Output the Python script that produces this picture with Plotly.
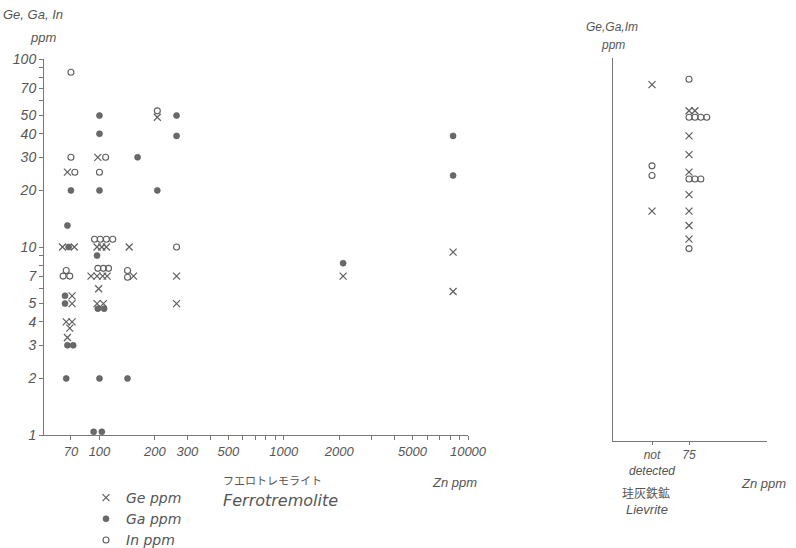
import math
import plotly.graph_objects as go

# ---------------- data ----------------
# Ferrotremolite panel: Zn ppm vs element ppm
ge_zn = [67, 63, 73, 71, 71, 66, 71, 69, 67,
         98, 97, 103, 109, 90, 97, 104, 110, 99, 97, 105,
         145, 153, 206, 262, 262, 2100, 8300, 8300]
ge_ppm = [25, 10, 10, 5.5, 5, 4, 4, 3.7, 3.3,
          30, 10, 10, 10, 7, 7, 7, 7, 6, 5, 5,
          10, 7, 49, 7, 5, 7, 9.4, 5.8]

ga_zn = [70, 67, 68, 65, 65, 67, 72, 66,
         100, 100, 100, 97, 98, 106, 100, 93, 103,
         142, 161, 206, 262, 262, 2100, 8300, 8300]
ga_ppm = [20, 13, 10, 5.5, 5, 3, 3, 2,
          50, 40, 20, 9, 4.7, 4.7, 2, 1.04, 1.04,
          2, 30, 20, 50, 39, 8.2, 39, 24]

in_zn = [70, 70, 73.5, 66, 63.5, 69,
         108, 100, 94, 101, 109, 118, 98, 105, 112,
         142, 142, 206, 262]
in_ppm = [85, 30, 25, 7.5, 7, 7,
          30, 25, 11, 11, 11, 11, 7.7, 7.7, 7.7,
          7.5, 6.9, 53, 10]

# Lievrite panel: Zn category vs element ppm
lv_categories = ["not detected", "75"]
lv_ge_cat = ["not detected", "not detected", "75", "75", "75", "75", "75", "75", "75", "75", "75"]
lv_ge_ppm = [73, 15.5, 53, 53, 39, 31, 25, 19, 15.5, 13, 11]
lv_in_cat = ["not detected", "not detected", "75", "75", "75", "75", "75", "75", "75", "75", "75"]
lv_in_ppm = [27, 24, 78, 49, 49, 49, 49, 23, 23, 23, 9.8]

x_tick_vals = [70, 100, 200, 300, 400, 500, 600, 700, 800, 900, 1000,
               2000, 3000, 4000, 5000, 6000, 7000, 8000, 9000, 10000]
x_tick_text = ["70", "100", "200", "300", "", "500", "", "", "", "", "1000",
               "2000", "", "", "5000", "", "", "", "", "10000"]
y_tick_vals = [1, 2, 3, 4, 5, 6, 7, 8, 9, 10, 20, 30, 40, 50, 60, 70, 80, 90, 100]
y_tick_text = ["1", "2", "3", "4", "5", "", "7", "", "", "10", "20", "30", "40", "50", "", "70", "", "", "100"]

# ---------------- styling / layout ----------------
W, H = 796, 548
INK = "#5e5e5e"
TXT = "#555555"
FONT = "Liberation Sans"
WIDE = "DejaVu Sans"


def fx(px):
    return px / W


def fy(py):
    return 1 - py / H


def jitter(cats, vals, step=0.16):
    """Place repeated (category, value) pairs side by side."""
    seen = {}
    out = []
    for c, v in zip(cats, vals):
        k = (c, v)
        n = seen.get(k, 0)
        seen[k] = n + 1
        out.append(lv_categories.index(c) + n * step)
    return out


ge_marker = dict(symbol="x-thin", size=7, color=INK, line=dict(width=1.2, color=INK))
ga_marker = dict(symbol="circle", size=6, color="#6a6a6a", line=dict(width=0.6, color="#555555"))
in_marker = dict(symbol="circle-open", size=6, color=INK, line=dict(width=1.1, color=INK))

fig = go.Figure()
fig.add_trace(go.Scatter(x=ge_zn, y=ge_ppm, mode="markers", name="Ge ppm", legendgroup="ge",
                         marker=ge_marker, cliponaxis=False, xaxis="x", yaxis="y"))
fig.add_trace(go.Scatter(x=ga_zn, y=ga_ppm, mode="markers", name="Ga ppm", legendgroup="ga",
                         marker=ga_marker, cliponaxis=False, xaxis="x", yaxis="y"))
fig.add_trace(go.Scatter(x=in_zn, y=in_ppm, mode="markers", name="In ppm", legendgroup="in",
                         marker=in_marker, cliponaxis=False, xaxis="x", yaxis="y"))
fig.add_trace(go.Scatter(x=jitter(lv_ge_cat, lv_ge_ppm), y=lv_ge_ppm, mode="markers", name="Ge ppm",
                         legendgroup="ge", showlegend=False, marker=ge_marker, cliponaxis=False,
                         xaxis="x2", yaxis="y2"))
fig.add_trace(go.Scatter(x=jitter(lv_in_cat, lv_in_ppm), y=lv_in_ppm, mode="markers", name="In ppm",
                         legendgroup="in", showlegend=False, marker=in_marker, cliponaxis=False,
                         xaxis="x2", yaxis="y2"))


def tfont(size):
    return dict(family=FONT, size=size, color=TXT, style="italic")


axis_common = dict(showgrid=False, zeroline=False, showline=True, linecolor="#777777", linewidth=1,
                   tickcolor="#777777", automargin=False)

fig.update_layout(
    width=W, height=H,
    margin=dict(l=0, r=0, t=0, b=0, autoexpand=False),
    paper_bgcolor="white", plot_bgcolor="white",
    font=dict(family=FONT, color=TXT),
    xaxis=dict(domain=[fx(44), fx(468)], type="log", range=[math.log10(50), 4],
               tickvals=x_tick_vals, ticktext=x_tick_text, anchor="y",
               ticks="outside", ticklen=4, tickfont=tfont(13), **axis_common),
    yaxis=dict(domain=[fy(435), fy(59)], type="log", range=[0, 2],
               tickvals=y_tick_vals, ticktext=y_tick_text, anchor="x",
               ticks="outside", ticklen=4, tickfont=tfont(14), **axis_common),
    xaxis2=dict(domain=[fx(613), fx(767)], range=[-1.054, 3.108],
                tickvals=[0, 1], ticktext=["not<br>detected", "75"], anchor="y2",
                ticks="outside", ticklen=3, tickfont=tfont(12), **axis_common),
    yaxis2=dict(domain=[fy(441), fy(58)], type="log", range=[math.log10(0.929), 2.005],
                showticklabels=False, ticks="", anchor="x2", **axis_common),
    showlegend=True,
    legend=dict(x=fx(86), y=fy(482), xanchor="left", yanchor="top",
                bgcolor="rgba(0,0,0,0)", traceorder="grouped", tracegroupgap=0,
                font=dict(family=WIDE, size=14, color=TXT, style="italic")),
)


def note(text, px, py, size=13, italic=True, xanchor="center", family=FONT):
    fig.add_annotation(text=text, x=fx(px), y=fy(py), xref="paper", yref="paper",
                       showarrow=False, xanchor=xanchor, yanchor="middle",
                       font=dict(family=family, size=size, color=TXT,
                                 style="italic" if italic else "normal"))


note("Ge, Ga, In", 33, 15)
note("ppm", 43, 37)
note("フエロトレモライト", 221, 480, size=11, italic=False, xanchor="left", family="Noto Sans CJK JP")
note("Ferrotremolite", 221, 500, size=16, xanchor="left", family=WIDE)
note("Zn ppm", 430, 482, xanchor="left")
note("Ge,Ga,Im", 612, 27, size=12)
note("ppm", 613, 45, size=12)
note("珪灰鉄鉱", 620, 492, size=12, italic=False, xanchor="left", family="Noto Sans CJK JP")
note("Lievrite", 624, 509, size=13, xanchor="left")
note("Zn ppm", 739, 483, xanchor="left")

fig.write_html("out.html", config={"displayModeBar": False},
               post_script="document.body.style.margin='0';document.body.style.overflow='hidden';")
